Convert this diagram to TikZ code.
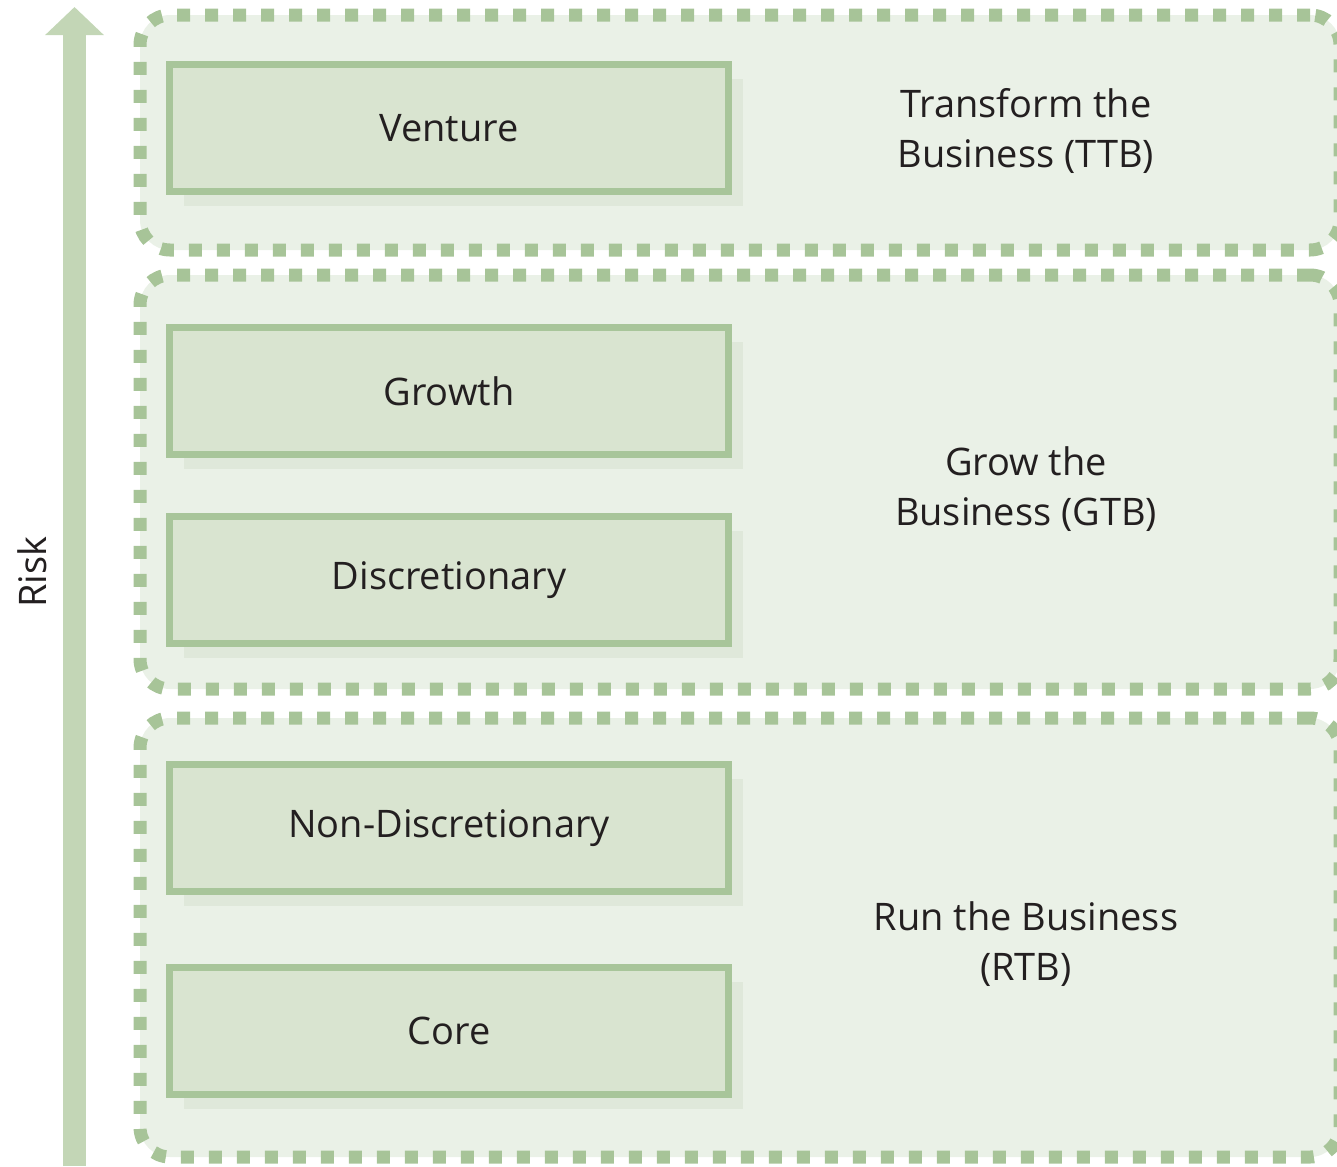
\documentclass[tikz,border=0pt]{standalone}
\usepackage{fontspec}
\setmainfont{Open Sans}
\usepackage{tikz}
\usetikzlibrary{arrows.meta, positioning, shadows}

\definecolor{arrowgreen}{HTML}{C3D6B6}
\definecolor{dashgreen}{HTML}{A7C498}
\definecolor{tierfill}{HTML}{EAF1E7}
\definecolor{boxfill}{HTML}{D9E4D0}
\definecolor{boxline}{HTML}{A8C59A}
\definecolor{boxshadow}{HTML}{DFE8DA}
\definecolor{textdark}{HTML}{231F20}

\begin{document}
\begin{tikzpicture}[
  node distance=1.1cm,
  every node/.style={text=textdark, font=\fontsize{21.6}{28.6}\selectfont},
  tier/.style={draw=dashgreen, line width=0.26cm, dash pattern=on 0.26cm off 0.3cm, fill=tierfill, rounded corners=6mm, minimum width=24cm, inner sep=0pt},
  block/.style={draw=boxline, line width=0.14cm, fill=boxfill, minimum width=11.18cm, minimum height=2.54cm, drop shadow={shadow xshift=0.28cm, shadow yshift=-0.28cm, fill=boxshadow, opacity=1}},
  tierlabel/.style={align=center},
  riskarrow/.style={-{Triangle[width=1.14cm, length=0.56cm]}, line width=0.46cm, color=arrowgreen}
]
  \useasboundingbox (0,0) rectangle (26.74,-23.32);

  \node[tier, minimum height=4.70cm] (ttb) at (14.8,-2.65) {};
  \node[tier, minimum height=8.28cm] (gtb) at (14.8,-9.64) {};
  \node[tier, minimum height=8.78cm] (rtb) at (14.8,-18.75) {};

  \node[block] (venture) at (8.98,-2.56) {Venture};
  \node[block] (growth) at (8.98,-7.82) {Growth};
  \node[block, below=of growth] (discretionary) {Discretionary};
  \node[block] (nondisc) at (8.98,-16.56) {Non-Discretionary};
  \node[block, below=1.38cm of nondisc] (core) {Core};

  \node[tierlabel] (ttblabel) at (20.52,-2.62) {Transform the\\Business (TTB)};
  \node[tierlabel] (gtblabel) at (20.52,-9.78) {Grow the\\Business (GTB)};
  \node[tierlabel] (rtblabel) at (20.52,-18.88) {Run the Business\\(RTB)};

  \coordinate (riskbase) at (1.49,-23.32);
  \coordinate (risktop) at (1.49,-0.14);
  \draw[riskarrow] (riskbase) -- (risktop);
  \node[rotate=90] (risk) at (0.64,-11.44) {Risk};
\end{tikzpicture}
\end{document}
